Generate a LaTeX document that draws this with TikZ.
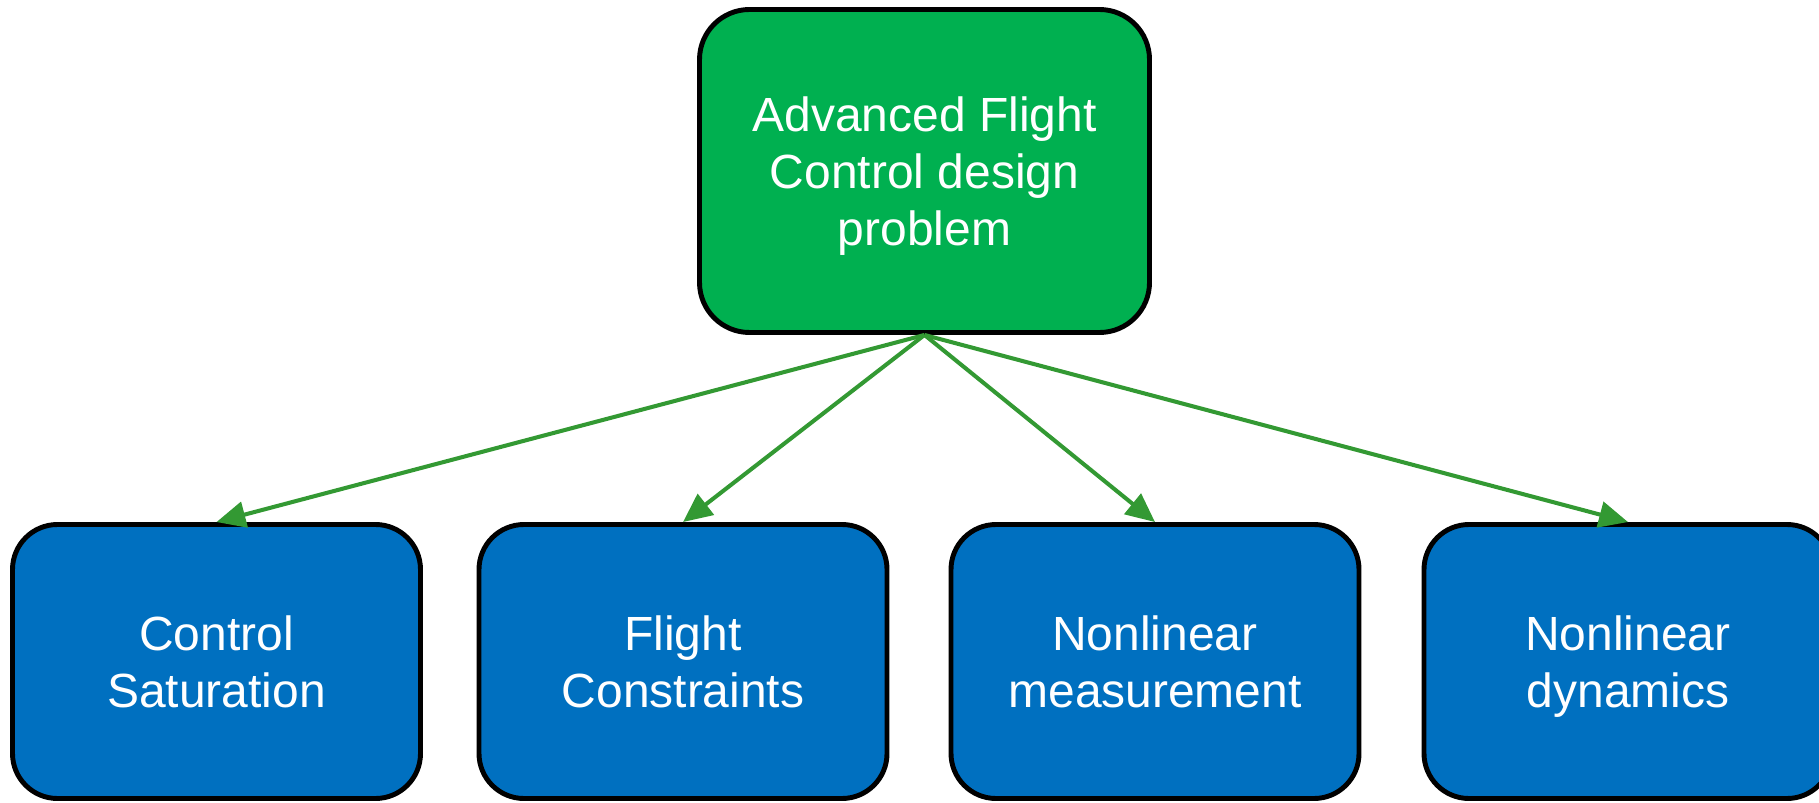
\documentclass[tikz,border=0pt]{standalone}
\usepackage{fontspec}
\setmainfont{Liberation Sans}
\usetikzlibrary{arrows.meta,positioning}

\definecolor{topgreen}{HTML}{00B050}
\definecolor{subblue}{HTML}{0070C0}
\definecolor{arrowgreen}{HTML}{339933}

\begin{document}
\begin{tikzpicture}[
    problem/.style={rectangle, draw=black, line width=2.8pt, fill=topgreen, text=white,
                    minimum width=9.0cm, minimum height=6.46cm, rounded corners=1cm,
                    align=center, text depth=0pt, font=\fontsize{27.3}{32.6}\selectfont},
    aspect/.style={rectangle, draw=black, line width=2.8pt, fill=subblue, text=white,
                   minimum width=8.16cm, minimum height=5.48cm, rounded corners=0.9cm,
                   align=center, text depth=0pt, font=\fontsize{27.3}{32.3}\selectfont},
    link/.style={-{Triangle[length=0.58cm,width=0.52cm]}, line width=2.3pt, draw=arrowgreen}
]
    % page frame
    \useasboundingbox (0,0) rectangle (36.38,16.04);
    \clip (0,0) rectangle (36.38,16.04);

    % main design problem
    \node[problem] (design) at (18.49,12.62) {Advanced Flight\\Control design\\problem};

    % the four difficulties
    \node[aspect] (saturation) at (4.33,2.81) {Control\\Saturation};
    \node[aspect] (constraints) at (13.66,2.81) {Flight\\Constraints};
    \node[aspect] (measurement) at (23.10,2.81) {Nonlinear\\measurement};
    \node[aspect] (dynamics) at (32.56,2.81) {Nonlinear\\dynamics};

    % arrows from the problem down to each difficulty
    \draw[link] (design.south) -- (saturation.north);
    \draw[link] (design.south) -- (constraints.north);
    \draw[link] (design.south) -- (measurement.north);
    \draw[link] (design.south) -- (dynamics.north);
\end{tikzpicture}
\end{document}
